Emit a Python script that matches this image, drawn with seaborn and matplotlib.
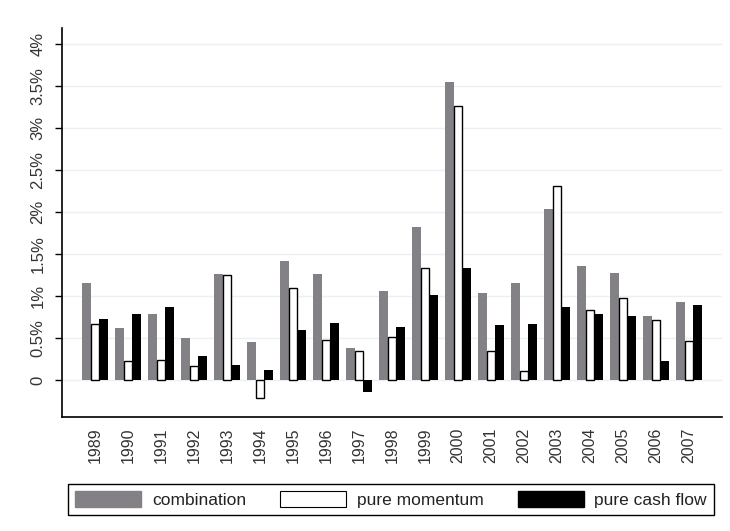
import pandas as pd
import matplotlib.pyplot as plt
import seaborn as sns
from matplotlib.patches import Patch

years = [str(y) for y in range(1989, 2008)]
combination = [1.15, 0.62, 0.79, 0.50, 1.26, 0.45, 1.42, 1.26, 0.38, 1.06,
               1.82, 3.55, 1.04, 1.15, 2.04, 1.36, 1.27, 0.76, 0.93]
pure_momentum = [0.66, 0.23, 0.24, 0.17, 1.245, -0.21, 1.10, 0.47, 0.34, 0.51,
                 1.33, 3.26, 0.34, 0.11, 2.31, 0.83, 0.97, 0.71, 0.46]
pure_cash_flow = [0.73, 0.78, 0.865, 0.29, 0.175, 0.12, 0.60, 0.675, -0.15, 0.635,
                  1.01, 1.33, 0.65, 0.66, 0.865, 0.79, 0.76, 0.22, 0.89]
series_names = ["combination", "pure momentum", "pure cash flow"]
y_ticks = [0, 0.5, 1, 1.5, 2, 2.5, 3, 3.5, 4]
y_labels = ["0", "0.5%", "1%", "1.5%", "2%", "2.5%", "3%", "3.5%", "4%"]

df = pd.DataFrame({
    "year": years * 3,
    "value": combination + pure_momentum + pure_cash_flow,
    "series": [series_names[0]] * 19 + [series_names[1]] * 19 + [series_names[2]] * 19,
})

sns.set_style("white")
plt.rcParams["font.family"] = ["Liberation Sans", "DejaVu Sans"]

fills = ["#838185", "white", "black"]

fig = plt.figure(figsize=(7.3, 5.31), dpi=100)
ax = fig.add_axes([0.085, 0.215, 0.904, 0.732])
sns.barplot(data=df, x="year", y="value", hue="series", palette=fills,
            width=0.79, saturation=1, legend=False, ax=ax, zorder=3)

# edges: only the white bars get a black outline
for i, cont in enumerate(ax.containers):
    for bar in cont:
        if i == 1:
            bar.set_edgecolor("black")
            bar.set_linewidth(1.0)
        else:
            bar.set_edgecolor(fills[i])
            bar.set_linewidth(0)

ax.set_xlim(-1, 19)
ax.set_ylim(-0.44, 4.19)
ax.set_yticks(y_ticks)
ax.set_yticklabels(y_labels, rotation=90, va="center", fontsize=12, color="#333333")
ax.tick_params(axis="y", left=True, length=5, width=1, color="black", pad=7)
ax.tick_params(axis="x", bottom=False, labelrotation=90, labelsize=11.5, pad=4,
               labelcolor="#333333")
ax.set_xlabel("")
ax.set_ylabel("")
ax.yaxis.grid(True, color="#eaf0f3", linewidth=1, zorder=0)
ax.set_axisbelow(True)
for s in ["top", "right"]:
    ax.spines[s].set_visible(False)
for s in ["left", "bottom"]:
    ax.spines[s].set_color("black")
    ax.spines[s].set_linewidth(1.2)

handles = [Patch(facecolor=fills[0], edgecolor=fills[0]),
           Patch(facecolor="white", edgecolor="black", linewidth=0.8),
           Patch(facecolor="black", edgecolor="black")]
leg = fig.legend(handles, series_names, ncol=3, loc="lower left",
                 bbox_to_anchor=(0.093, 0.030), borderaxespad=0, fontsize=12.5,
                 handlelength=3.8, handleheight=1.0, handletextpad=0.63,
                 columnspacing=1.95, borderpad=0.42,
                 fancybox=False, edgecolor="black", framealpha=1)
leg.get_frame().set_linewidth(1.0)
for t in leg.get_texts():
    t.set_color("#222222")

fig.savefig("out.png", dpi=100)
